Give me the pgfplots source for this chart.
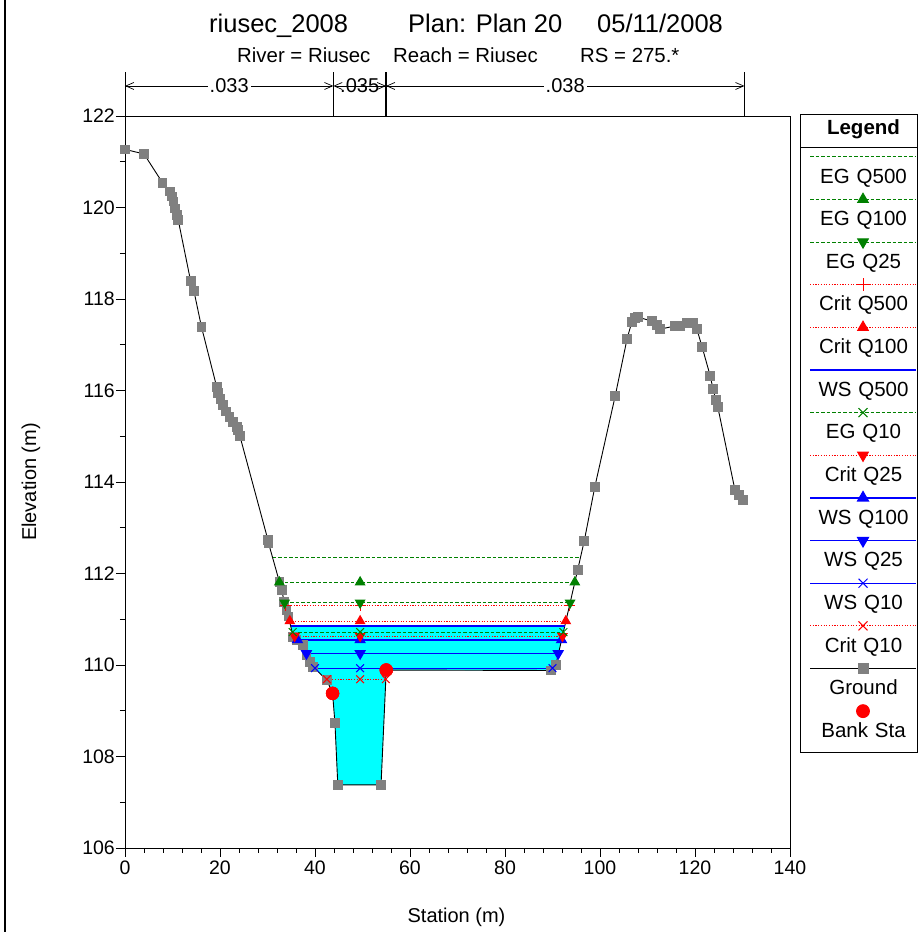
\documentclass[border=0pt]{standalone}
\usepackage{fontspec}
\setmainfont{Liberation Sans}
\usepackage{pgfplots}
\pgfplotsset{compat=1.18}
\usetikzlibrary{arrows.meta}
\definecolor{egreen}{RGB}{0,128,0}
\definecolor{gnd}{RGB}{128,128,128}
\definecolor{wcyan}{RGB}{0,255,255}
\definecolor{wblue}{RGB}{0,0,255}
\definecolor{wred}{RGB}{255,0,0}
\pgfplotsset{
  myimg/.style={legend image code/.code={%
    \path[draw=none,fill=none] (0pt,-12.85pt) rectangle (10pt,29.8pt);
    \draw[overlay,mark repeat=2,mark phase=2,##1,every mark/.append style={scale=1.15}] plot coordinates {(10pt,20.8pt)(63pt,20.8pt)(116pt,20.8pt)};}},
  bankimg/.style={legend image code/.code={%
    \path[draw=none,fill=none] (0pt,-20.05pt) rectangle (10pt,29.8pt);
    \draw[overlay,mark repeat=2,mark phase=2,##1] plot coordinates {(10pt,20.8pt)(63pt,20.8pt)(116pt,20.8pt)};}},
  headimg/.style={legend image code/.code={%
    \path[draw=none,fill=none] (0pt,-18.3pt) rectangle (10pt,15.4pt);
    \draw[overlay,line width=0.8pt,black,solid] (0pt,-18.3pt) -- (117pt,-18.3pt);}},
}
\begin{document}
\begin{tikzpicture}
\draw[line width=2pt] (5pt,0pt) -- (5pt,932pt);
\begin{axis}[
  at={(125pt,84pt)}, anchor=south west,
  scale only axis, width=665pt, height=732pt,
  xmin=0, xmax=140, ymin=106, ymax=122,
  clip=false,
  xtick={0,20,...,140}, ytick={106,108,...,122},
  minor x tick num=4, minor y tick num=1,
  tick align=outside, xtick pos=left, ytick pos=left,
  major tick length=9pt, minor tick length=5pt,
  tick style={black, line width=0.8pt},
  axis line style={line width=0.8pt},
  /pgf/number format/assume math mode=true,
  ticklabel style={font=\fontsize{19.5}{22}\selectfont},
  yticklabel style={inner xsep=1pt},
  label style={font=\fontsize{20}{24}\selectfont},
  xlabel={Station (m)}, ylabel={Elevation (m)},
  xlabel style={at={(axis description cs:0.4985,-0.1011)}, anchor=base},
  ylabel style={at={(axis description cs:-0.1414,0.5)}, anchor=center},
  reverse legend,
  legend cell align=center,
  legend style={
    at={(axis description cs:1.01504,1.00273)}, anchor=north west,
    draw=black, line width=0.8pt, fill=white,
    inner sep=0pt, outer sep=0pt, row sep=0pt, column sep=0pt,
    font=\fontsize{20.5}{24}\selectfont,
    nodes={text width=107pt, align=center, inner xsep=0pt, inner ysep=0pt,
           text height=15pt, text depth=4pt, anchor=center},
  },
  myimg,
]
% water fill (WS Q500)
\addplot[fill=wcyan, draw=none, forget plot] coordinates {
 (34.9,110.85)(92.58,110.85)(90.7,110.0)(89.6,109.88)(55.0,109.89)(53.9,107.38)
 (44.8,107.38)(44.2,108.73)(43.7,109.38)(42.5,109.67)(39.6,109.96)(38.9,110.07)
 (38.2,110.22)(37.5,110.44)(36.1,110.55)(35.4,110.62)} -- cycle;
% Bank Sta (legend entry; redrawn on top at the end)
\addplot[only marks, mark=*, mark size=6.5pt, color=wred, bankimg]
  coordinates {(43.7,109.38)(55.0,109.89)};
\addlegendentry{Bank Sta}
% Ground
\addplot[black, line width=0.9pt, mark=square*, mark size=4.4pt, mark options={draw=gnd, fill=gnd}]
 coordinates {
 (0,121.27)(4.0,121.17)(7.9,120.54)(9.5,120.35)(9.8,120.24)(10.2,120.13)(10.5,119.98)
 (10.9,119.84)(11.2,119.73)(13.8,118.4)(14.5,118.18)(16.1,117.39)(19.3,116.08)(19.6,115.94)
 (20.1,115.81)(20.7,115.68)(21.3,115.54)(22.0,115.43)(22.8,115.32)(23.5,115.21)(23.8,115.14)
 (24.2,115.0)(30.1,112.73)(30.2,112.67)(32.5,111.82)(33.0,111.64)(33.5,111.38)(34.0,111.2)
 (34.4,111.06)(35.4,110.62)(36.1,110.55)(37.5,110.44)(38.2,110.22)(38.9,110.07)(39.6,109.96)
 (42.5,109.67)(43.7,109.38)(44.2,108.73)(44.8,107.38)(53.9,107.38)(55.0,109.89)(89.6,109.88)
 (90.7,110.0)(95.3,112.08)(96.7,112.72)(98.9,113.89)(103.2,115.88)(105.7,117.13)(106.7,117.5)
 (107.4,117.58)(108.0,117.6)(110.9,117.52)(112.0,117.43)(112.6,117.34)(115.8,117.41)
 (116.8,117.41)(118.3,117.48)(119.6,117.48)(120.4,117.34)(121.5,116.95)(123.2,116.32)
 (123.8,116.03)(124.4,115.79)(124.8,115.64)(128.4,113.83)(129.3,113.72)(130.1,113.61)};
\addlegendentry{Ground}
% Crit Q10
\addplot[wred, line width=1pt, dash pattern=on 1.2pt off 1.5pt, mark=x, mark size=5.5pt, mark options={solid, line width=1pt}]
 coordinates {(42.5,109.69)(49.5,109.69)(54.9,109.69)};
\addlegendentry{Crit Q10}
% WS Q10
\addplot[wblue, line width=1.4pt, mark=x, mark size=5.5pt, mark options={solid, line width=1pt}]
 coordinates {(40.0,109.93)(49.5,109.93)(90.0,109.93)};
\addlegendentry{WS Q10}
% WS Q25
\addplot[wblue, line width=1.4pt, mark=triangle*, mark size=5.3pt, mark options={solid, rotate=180}]
 coordinates {(38.2,110.25)(49.5,110.25)(91.2,110.25)};
\addlegendentry{WS Q25}
% WS Q100
\addplot[wblue, line width=1.4pt, mark=triangle*, mark size=5.3pt, mark options={solid}]
 coordinates {(36.3,110.55)(49.5,110.55)(91.9,110.55)};
\addlegendentry{WS Q100}
% Crit Q25
\addplot[wred, line width=1pt, dash pattern=on 1.2pt off 1.5pt, mark=triangle*, mark size=5.3pt, mark options={solid, rotate=180}]
 coordinates {(35.7,110.63)(49.5,110.63)(92.1,110.63)};
\addlegendentry{Crit Q25}
% EG Q10
\addplot[egreen, line width=1pt, dash pattern=on 3.5pt off 2pt, mark=x, mark size=5.5pt, mark options={solid, line width=1pt}]
 coordinates {(35.3,110.72)(49.5,110.72)(92.3,110.72)};
\addlegendentry{EG Q10}
% WS Q500
\addplot[wblue, line width=1.4pt]
 coordinates {(34.9,110.85)(92.58,110.85)};
\addlegendentry{WS Q500}
% Crit Q100
\addplot[wred, line width=1pt, dash pattern=on 1.2pt off 1.5pt, mark=triangle*, mark size=5.3pt, mark options={solid}]
 coordinates {(34.7,110.96)(49.5,110.96)(92.8,110.96)};
\addlegendentry{Crit Q100}
% Crit Q500
\addplot[wred, line width=1pt, dash pattern=on 1.2pt off 1.5pt, mark=+, mark size=5.5pt, mark options={solid, line width=1pt}]
 coordinates {(33.8,111.30)(49.5,111.30)(93.5,111.30)};
\addlegendentry{Crit Q500}
% EG Q25
\addplot[egreen, line width=1pt, dash pattern=on 3.5pt off 2pt, mark=triangle*, mark size=5.3pt, mark options={solid, rotate=180}]
 coordinates {(33.6,111.36)(49.5,111.36)(93.7,111.36)};
\addlegendentry{EG Q25}
% EG Q100
\addplot[egreen, line width=1pt, dash pattern=on 3.5pt off 2pt, mark=triangle*, mark size=5.3pt, mark options={solid}]
 coordinates {(32.5,111.81)(49.5,111.81)(94.7,111.81)};
\addlegendentry{EG Q100}
% EG Q500
\addplot[egreen, line width=1pt, dash pattern=on 3.5pt off 2pt]
 coordinates {(31.1,112.34)(95.87,112.34)};
\addlegendentry{EG Q500}
% Bank Sta on top
\addplot[only marks, mark=*, mark size=6.5pt, color=wred, forget plot]
  coordinates {(43.7,109.38)(55.0,109.89)};
% legend header
\addlegendimage{headimg}
\addlegendentry{\textbf{Legend}}
% Manning's n dimension lines
\draw[line width=0.9pt] (axis cs:0,122) -- (axis cs:0,122.96);
\draw[line width=1.5pt] (axis cs:43.86,122) -- (axis cs:43.86,122.96);
\draw[line width=1.5pt] (axis cs:54.95,122) -- (axis cs:54.95,122.96);
\draw[line width=0.9pt] (axis cs:130.4,122) -- (axis cs:130.4,122.96);
\draw[line width=0.7pt, {Straight Barb[length=8pt,width=7pt]}-{Straight Barb[length=8pt,width=7pt]}]
  (axis cs:0,122.656) -- (axis cs:43.86,122.656)
  node[midway, fill=white, inner sep=2pt, font=\fontsize{20}{24}\selectfont] {.033};
\draw[line width=0.7pt, {Straight Barb[length=8pt,width=7pt]}-{Straight Barb[length=8pt,width=7pt]}]
  (axis cs:43.86,122.656) -- (axis cs:54.95,122.656)
  node[midway, inner sep=0pt, font=\fontsize{20}{24}\selectfont] {.035};
\draw[line width=0.7pt, {Straight Barb[length=8pt,width=7pt]}-{Straight Barb[length=8pt,width=7pt]}]
  (axis cs:54.95,122.656) -- (axis cs:130.4,122.656)
  node[midway, fill=white, inner sep=2pt, font=\fontsize{20}{24}\selectfont] {.038};
\end{axis}
% titles
\begin{scope}[every node/.style={inner sep=0pt, anchor=base west}]
\node[font=\fontsize{25.5}{28}\selectfont] at (209pt,899pt) {riusec\_2008};
\node[font=\fontsize{25.5}{28}\selectfont] at (408pt,899pt) {Plan: Plan 20};
\node[font=\fontsize{25.5}{28}\selectfont] at (597pt,899pt) {05/11/2008};
\node[font=\fontsize{20.4}{24}\selectfont] at (237pt,869pt) {River = Riusec};
\node[font=\fontsize{20.4}{24}\selectfont] at (393pt,869pt) {Reach = Riusec};
\node[font=\fontsize{20.4}{24}\selectfont] at (580pt,869pt) {RS = 275.*};
\end{scope}
\pgfresetboundingbox
\path (0pt,0pt) rectangle (921pt,932pt);
\end{tikzpicture}
\end{document}
